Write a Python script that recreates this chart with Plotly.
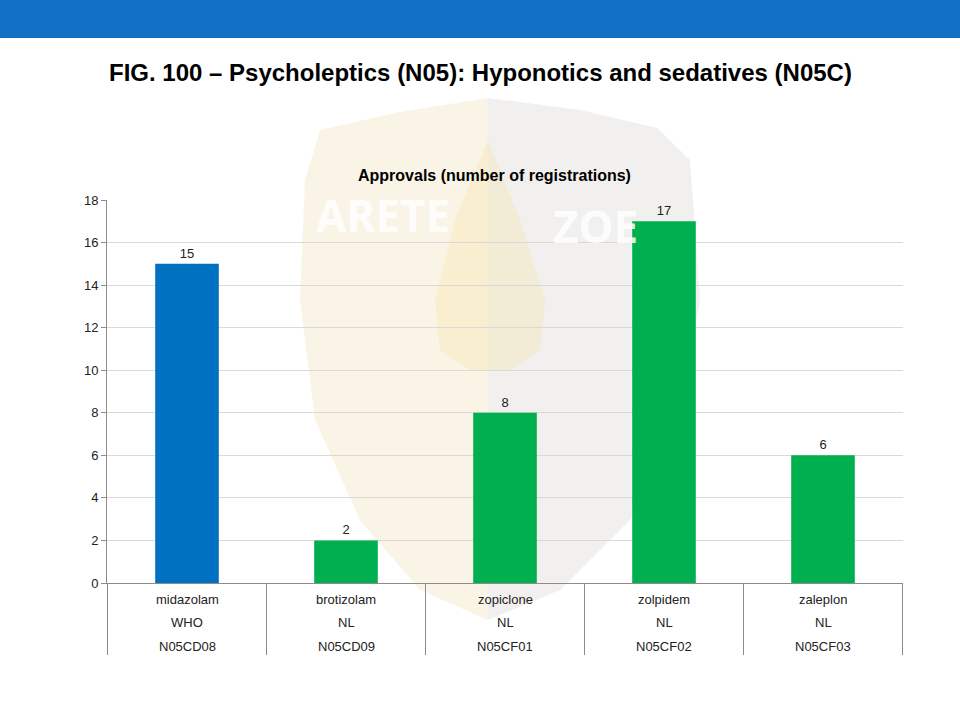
import plotly.graph_objects as go

# chart data
drugs = ['midazolam', 'brotizolam', 'zopiclone', 'zolpidem', 'zaleplon']
sources = ['WHO', 'NL', 'NL', 'NL', 'NL']
atc_codes = ['N05CD08', 'N05CD09', 'N05CF01', 'N05CF02', 'N05CF03']
approvals = [15, 2, 8, 17, 6]
bar_colors = ['#0070C0', '#00B050', '#00B050', '#00B050', '#00B050']
y_ticks = [0, 2, 4, 6, 8, 10, 12, 14, 16, 18]

W, H = 960, 720
L, R, T, B = 107, 57, 200, 137
FONT = 'Arial, Liberation Sans'


def px2paper(px, py):
    # page pixels -> paper coords (for the decorations only)
    return (px - L) / (W - L - R), (H - B - py) / (H - T - B)


def poly(pts):
    return 'M ' + ' L '.join('%.4f %.4f' % px2paper(x, y) for x, y in pts) + ' Z'


fig = go.Figure()
fig.add_trace(go.Bar(
    x=drugs, y=approvals,
    marker=dict(color=bar_colors, line=dict(width=0)),
    text=approvals, textposition='outside',
    textfont=dict(family=FONT, size=13, color='#222'),
    cliponaxis=False,
))

# three-row category table under the axis
row_y = [-0.044, -0.102, -0.167]
for row, labels in zip(row_y, [drugs, sources, atc_codes]):
    for d, lab in zip(drugs, labels):
        fig.add_annotation(x=d, y=row, xref='x', yref='paper', text=lab,
                           showarrow=False, yanchor='middle',
                           font=dict(family=FONT, size=13, color='#222'))
for i in range(len(drugs) + 1):
    fig.add_shape(type='line', xref='x', yref='paper', x0=i - 0.5, x1=i - 0.5,
                  y0=0, y1=-0.188, line=dict(color='#8c8c8c', width=1))

# faint shield watermark: cream left half, grey right half
left_half = [(488, 98), (400, 112), (320, 130), (305, 180), (300, 300), (315, 420),
             (360, 520), (420, 590), (488, 620)]
right_half = [(488, 98), (580, 110), (657, 128), (690, 160), (700, 300), (680, 420),
              (630, 520), (560, 590), (488, 620)]
fig.add_shape(type='path', xref='paper', yref='paper', path=poly(left_half),
              fillcolor='rgba(225,195,120,0.18)', line=dict(width=0), layer='below')
fig.add_shape(type='path', xref='paper', yref='paper', path=poly(right_half),
              fillcolor='rgba(160,150,135,0.14)', line=dict(width=0), layer='below')
flame = [(488, 140), (520, 220), (545, 300), (540, 350), (510, 370), (470, 370),
         (440, 350), (435, 300), (455, 220)]
fig.add_shape(type='path', xref='paper', yref='paper', path=poly(flame),
              fillcolor='rgba(245,205,70,0.14)', line=dict(width=0), layer='below')
for word, (wx, wy) in [('ARETE', (383, 215)), ('ZOE', (595, 226))]:
    ax, ay = px2paper(wx, wy)
    fig.add_annotation(x=ax, y=ay, xref='paper', yref='paper', text='<b>%s</b>' % word,
                       showarrow=False, yanchor='middle',
                       font=dict(family='Open Sans, Arial', size=44, color='rgba(255,255,255,0.85)'))

# blue header band
fig.add_shape(type='rect', xref='paper', yref='paper',
              x0=px2paper(0, 0)[0], x1=px2paper(W, 0)[0],
              y0=px2paper(0, 38)[1], y1=px2paper(0, 0)[1],
              fillcolor='#1170C4', line=dict(width=0))

tx, ty = px2paper(480, 72)
fig.add_annotation(x=tx, y=ty, xref='paper', yref='paper',
                   text='<b>FIG. 100 \u2013 Psycholeptics (N05): Hyponotics and sedatives (N05C)</b>',
                   showarrow=False, yanchor='middle',
                   font=dict(family=FONT, size=24, color='#000'))
sx, sy = px2paper(494, 175)
fig.add_annotation(x=sx, y=sy, xref='paper', yref='paper',
                   text='<b>Approvals (number of registrations)</b>', showarrow=False,
                   yanchor='middle',
                   font=dict(family=FONT, size=16, color='#000'))

fig.update_layout(
    width=W, height=H,
    margin=dict(l=L, r=R, t=T, b=B),
    paper_bgcolor='white', plot_bgcolor='rgba(0,0,0,0)',
    bargap=0.6, showlegend=False,
    font=dict(family=FONT, size=13, color='#222'),
)
fig.update_xaxes(showticklabels=False, showline=True, linecolor='#8c8c8c',
                 linewidth=1, showgrid=False, zeroline=False, mirror=False)
fig.update_yaxes(range=[0, 18], tickvals=y_ticks, showgrid=True, gridcolor='#d9d9d9',
                 showline=True, linecolor='#8c8c8c', linewidth=1,
                 ticks='outside', ticklen=5, tickcolor='#8c8c8c',
                 zeroline=False, tickfont=dict(size=13, color='#222'))

fig.write_html('out.html', config={'displayModeBar': False},
               post_script="document.body.style.margin='0';document.body.style.overflow='hidden';")
